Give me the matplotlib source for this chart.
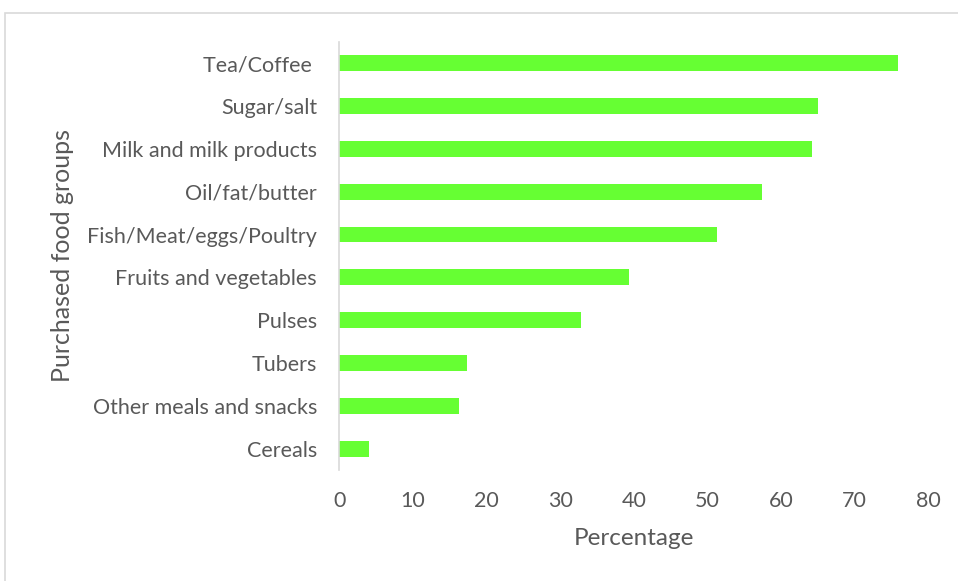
import matplotlib
matplotlib.use("Agg")
import matplotlib.pyplot as plt
from matplotlib.patches import Rectangle

# share of households purchasing each food group
groups = ["Tea/Coffee ", "Sugar/salt", "Milk and milk products", "Oil/fat/butter",
          "Fish/Meat/eggs/Poultry", "Fruits and vegetables", "Pulses", "Tubers",
          "Other meals and snacks", "Cereals"]
percent = [75.9, 65.0, 64.2, 57.4, 51.3, 39.3, 32.9, 17.3, 16.3, 4.1]
xticks = [0, 10, 20, 30, 40, 50, 60, 70, 80]

plt.rcParams['font.family'] = ['Lato', 'DejaVu Sans']
grey = "#595959"

fig = plt.figure(figsize=(9.58, 5.81), dpi=100)
ax = fig.add_axes([0.354, 0.191, 0.615, 0.737])

pos = list(range(len(groups)))[::-1]
ax.barh(pos, percent, height=0.37, color="#66FF33")

ax.set_xlim(0, 80)
ax.set_ylim(-0.5, len(groups) - 0.5)
ax.set_xticks(xticks)
ax.set_yticks(pos)
ax.set_yticklabels(groups)
ax.tick_params(axis="both", length=0, labelsize=15.5, colors=grey)
ax.tick_params(axis="y", pad=16)
ax.tick_params(axis="x", pad=15)

for s in ["top", "right", "bottom"]:
    ax.spines[s].set_visible(False)
ax.spines["left"].set_color("#D9D9D9")
ax.spines["left"].set_linewidth(1.2)

ax.set_xlabel("Percentage", fontsize=17.5, color=grey, labelpad=12)
fig.text(0.065, 0.561, "Purchased food groups", rotation=90, fontsize=18,
         color=grey, ha="center", va="center")

# outer chart frame
fig.patches.append(Rectangle((5 / 958, -0.05), 1.2, 1 - 13 / 581 + 0.05,
                             transform=fig.transFigure, fill=False,
                             edgecolor="#D9D9D9", linewidth=1.2))

fig.savefig("out.png", dpi=100)
